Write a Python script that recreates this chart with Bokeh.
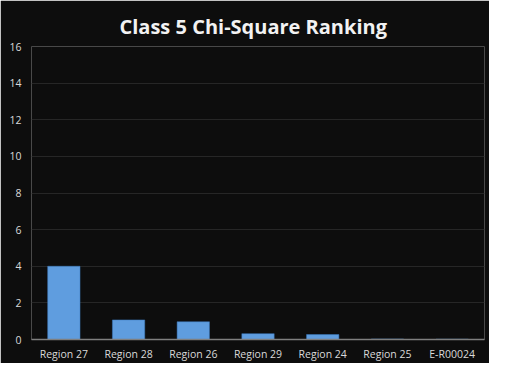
from bokeh.plotting import figure
from bokeh.models import Range1d, FixedTicker
from bokeh.embed import file_html
from bokeh.resources import INLINE

categories = ["Region 27", "Region 28", "Region 26", "Region 29", "Region 24", "Region 25", "E-R00024"]
values = [4.0, 1.07, 0.97, 0.32, 0.27, 0.03, 0.02]
y_ticks = [0, 2, 4, 6, 8, 10, 12, 14, 16]

bg = "#0d0d0d"
p = figure(x_range=categories, y_range=Range1d(0, 16), width=489, height=363,
           output_backend="svg", toolbar_location=None,
           background_fill_color=bg, border_fill_color=bg,
           min_border_left=31, min_border_right=5, min_border_top=46, min_border_bottom=20)

p.title.text = "Class 5 Chi-Square Ranking"
p.title.align = "left"
p.title.offset = 88
p.title.text_color = "#f2f2f2"
p.title.text_font = "Open Sans"
p.title.text_font_style = "bold"
p.title.text_font_size = "20px"
p.title.standoff = 14

p.vbar(x=categories, top=values, width=0.5, fill_color="#5f9ddf", line_color="#3a78bd", line_width=0.5)

p.outline_line_color = None
p.xgrid.grid_line_color = None
p.ygrid.grid_line_color = "#262626"
p.ygrid.ticker = FixedTicker(ticks=y_ticks)

p.yaxis.ticker = FixedTicker(ticks=y_ticks)
p.yaxis.axis_line_color = None
p.yaxis.major_tick_line_color = None
p.yaxis.minor_tick_line_color = None
p.yaxis.major_tick_out = 0
p.yaxis.major_tick_in = 0
p.yaxis.major_label_text_color = "#d9d9d9"
p.yaxis.major_label_text_font = "Open Sans"
p.yaxis.major_label_text_font_size = "10.5px"
p.yaxis.major_label_standoff = 10

p.xaxis.axis_line_color = "#7f7f7f"
p.xaxis.axis_line_width = 1.5
p.xaxis.major_tick_line_color = None
p.xaxis.minor_tick_line_color = None
p.xaxis.major_tick_out = 0
p.xaxis.major_tick_in = 0
p.xaxis.axis_label_standoff = 0
p.xaxis.major_label_text_color = "#d9d9d9"
p.xaxis.major_label_text_font = "Open Sans"
p.xaxis.major_label_text_font_size = "10.5px"
p.xaxis.major_label_standoff = 7

open("out.html", "w").write(file_html(p, INLINE))
